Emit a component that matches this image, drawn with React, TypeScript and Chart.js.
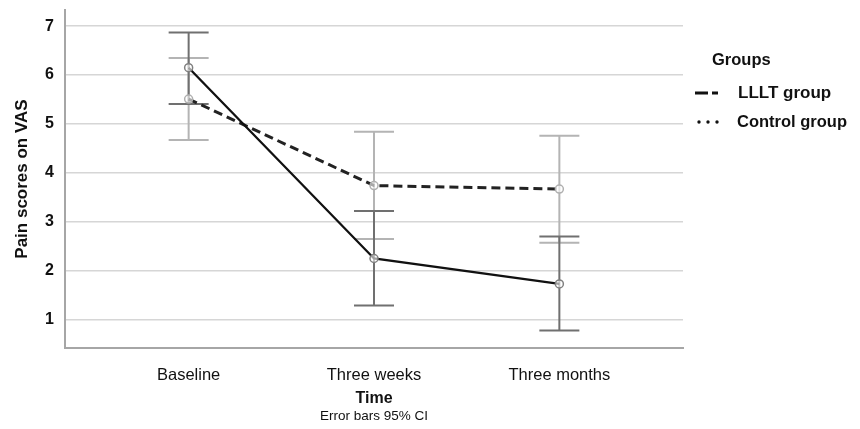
import React, { useEffect, useRef } from "react";
import { Chart, registerables } from "chart.js";

Chart.register(...registerables);

const categories = ["Baseline", "Three weeks", "Three months"];
const yTicks = [1, 2, 3, 4, 5, 6, 7];

const llltMean = [6.15, 2.25, 1.73];
const llltLower = [5.41, 1.29, 0.78];
const llltUpper = [6.87, 3.22, 2.7];

const controlMean = [5.51, 3.74, 3.67];
const controlLower = [4.67, 2.65, 2.57];
const controlUpper = [6.35, 4.84, 4.76];

const legendTitle = "Groups";
const seriesNames = ["LLLT group", "Control group"];
const xTitle = "Time";
const xSubtitle = "Error bars 95% CI";
const yTitle = "Pain scores on VAS";

const FONT = "'Liberation Sans', Arial, sans-serif";
const TEXT = "#111111";

const errorBarPlugin = {
  id: "errorBars",
  beforeDatasetsDraw(chart: any) {
    const { ctx, scales } = chart;
    const x = scales.x;
    const y = scales.y;
    const groups = [
      { lower: controlLower, upper: controlUpper, color: "#b4b4b4" },
      { lower: llltLower, upper: llltUpper, color: "#707070" },
    ];
    ctx.save();
    groups.forEach((g) => {
      ctx.strokeStyle = g.color;
      ctx.lineWidth = 2;
      categories.forEach((_, i) => {
        const px = x.getPixelForValue(i);
        const yl = y.getPixelForValue(g.lower[i]);
        const yu = y.getPixelForValue(g.upper[i]);
        ctx.beginPath();
        ctx.moveTo(px, yl);
        ctx.lineTo(px, yu);
        ctx.moveTo(px - 20, yl);
        ctx.lineTo(px + 20, yl);
        ctx.moveTo(px - 20, yu);
        ctx.lineTo(px + 20, yu);
        ctx.stroke();
      });
    });
    ctx.restore();
  },
};

const extrasPlugin = {
  id: "extras",
  afterDraw(chart: any) {
    const { ctx, chartArea } = chart;
    ctx.save();
    ctx.fillStyle = TEXT;
    ctx.font = `13.5px ${FONT}`;
    ctx.textAlign = "center";
    ctx.textBaseline = "middle";
    ctx.fillText(xSubtitle, (chartArea.left + chartArea.right) / 2, 416);

    const lx = chartArea.right + 12;
    ctx.textAlign = "left";
    ctx.font = `bold 16.5px ${FONT}`;
    ctx.fillText(legendTitle, lx + 17, 60);

    ctx.strokeStyle = "#111";
    ctx.lineWidth = 3;
    ctx.beginPath();
    ctx.moveTo(lx, 93);
    ctx.lineTo(lx + 13, 93);
    ctx.moveTo(lx + 17, 93);
    ctx.lineTo(lx + 23, 93);
    ctx.stroke();
    ctx.font = `bold 17px ${FONT}`;
    ctx.fillText(seriesNames[0], lx + 43, 93);

    ctx.fillStyle = "#111";
    [4, 13, 22].forEach((dx) => {
      ctx.beginPath();
      ctx.arc(lx + dx, 122, 1.7, 0, Math.PI * 2);
      ctx.fill();
    });
    ctx.fillStyle = TEXT;
    ctx.font = `bold 16.5px ${FONT}`;
    ctx.fillText(seriesNames[1], lx + 42, 122);
    ctx.restore();
  },
};

export default function App() {
  const ref = useRef<HTMLCanvasElement | null>(null);

  useEffect(() => {
    if (!ref.current) return;
    const chart = new Chart(ref.current, {
      type: "line",
      data: {
        datasets: [
          {
            label: seriesNames[0],
            data: llltMean.map((v, i) => ({ x: i, y: v })),
            borderColor: "#111111",
            borderWidth: 2.3,
            pointRadius: 4,
            pointBorderWidth: 1.5,
            pointBorderColor: "#808080",
            pointBackgroundColor: "rgba(255,255,255,0.6)",
            tension: 0,
          },
          {
            label: seriesNames[1],
            data: controlMean.map((v, i) => ({ x: i, y: v })),
            borderColor: "#222222",
            borderWidth: 3,
            borderDash: [9, 5],
            pointRadius: 4,
            pointBorderWidth: 1.5,
            pointBorderColor: "#b0b0b0",
            pointBackgroundColor: "rgba(255,255,255,0.6)",
            tension: 0,
          },
        ],
      },
      options: {
        animation: false,
        responsive: false,
        maintainAspectRatio: false,
        layout: { padding: { top: 10, right: 177, left: 0, bottom: 0 } },
        plugins: {
          legend: { display: false },
          tooltip: { enabled: false },
        },
        scales: {
          x: {
            type: "linear",
            min: -0.667,
            max: 2.667,
            afterBuildTicks: (scale: any) => {
              scale.ticks = categories.map((_, i) => ({ value: i }));
            },
            afterFit: (scale: any) => {
              scale.height = 81;
              scale.paddingLeft = 0;
              scale.paddingRight = 0;
            },
            grid: { display: false },
            border: { display: true, color: "#a6a6a6", width: 2 },
            ticks: {
              padding: 10,
              color: TEXT,
              font: { family: FONT, size: 16.5 },
              callback: (v: any) => categories[v] ?? "",
              maxRotation: 0,
            },
            title: {
              display: true,
              text: xTitle,
              color: TEXT,
              font: { family: FONT, size: 16, weight: "bold" },
              padding: { top: 4, bottom: 21 },
            },
          },
          y: {
            type: "linear",
            min: 0.42,
            max: 7.33,
            afterBuildTicks: (scale: any) => {
              scale.ticks = yTicks.map((v) => ({ value: v }));
            },
            afterFit: (scale: any) => {
              scale.width = 65;
              scale.paddingTop = 0;
              scale.paddingBottom = 0;
            },
            grid: { display: true, color: "#d6d6d6", lineWidth: 1.5, drawTicks: false },
            border: { display: true, color: "#a6a6a6", width: 2 },
            ticks: {
              padding: 11,
              color: TEXT,
              font: { family: FONT, size: 16, weight: "bold" },
              callback: (v: any) => String(v),
            },
            title: {
              display: true,
              text: yTitle,
              color: TEXT,
              font: { family: FONT, size: 17, weight: "bold" },
              padding: { top: 12, bottom: 0 },
            },
          },
        },
      },
      plugins: [errorBarPlugin, extrasPlugin],
    });
    return () => chart.destroy();
  }, []);

  return (
    <div style={{ position: "fixed", left: 0, top: 0, width: 860, height: 429, background: "#fff" }}>
      <canvas ref={ref} width={860} height={429} style={{ display: "block" }} />
    </div>
  );
}
